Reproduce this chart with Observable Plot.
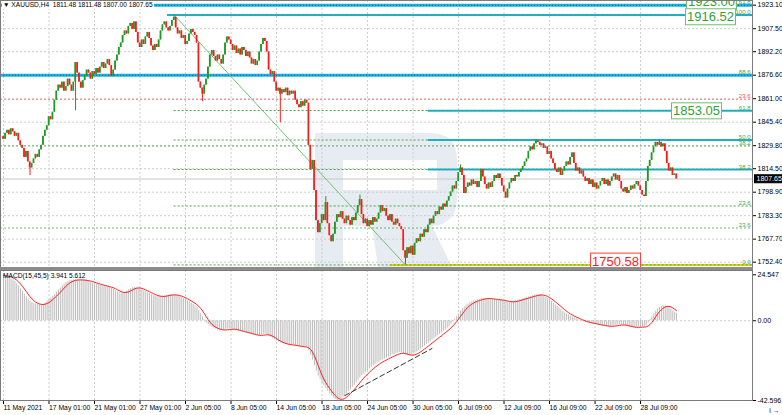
<!DOCTYPE html>
<html><head><meta charset="utf-8">
<script src="https://cdn.jsdelivr.net/npm/d3@7"></script>
<script src="https://cdn.jsdelivr.net/npm/@observablehq/plot@0.6"></script>
<style>
html,body{margin:0;padding:0;background:#fff;}
#wrap{position:relative;width:782px;height:415px;overflow:hidden;font-family:"Liberation Sans","DejaVu Sans",sans-serif;background:#fff;}
#wm{position:absolute;left:0;top:0;}
#top{position:absolute;left:0;top:0;}
#sep{position:absolute;left:0;top:267px;width:753px;height:3px;background:#8c8c8c;}
#bot{position:absolute;left:0;top:270px;}
.hdr{position:absolute;left:2px;font-size:6.6px;line-height:8px;color:#000;white-space:pre;background:#fff;padding:0 1px;}
</style></head><body>
<div id="wrap">
<svg id="wm" width="782" height="415"><path fill="#e7ecf3" fill-rule="evenodd" d="M315,133 H430 Q457,133 457,160 V198 Q457,224 432,226 L452,267 H378 L372,226 H343 V267 H315 Z M343,160 V190 H437 V160 Z"/></svg>
<div id="top"></div>
<div id="sep"></div>
<div id="bot"></div>
<div class="hdr" id="h1" style="top:1px"></div>
<div class="hdr" id="h2" style="top:272px;background:none"></div>
</div>
<script>
// ---------- DATA ----------
const symbolName = "XAUUSD,H4";
const headerOHLC = ["1811.48", "1811.48", "1807.00", "1807.65"];
const macdName = "MACD(15,45,5)";
const macdHeader = ["3.941", "5.612"];

const firstOpen = 1836;
const closes = [
1834,1838,1840,1837,1841,1839,1836,1838,1833,1830,1828,1822,1826,1819,1815,
1818,1821,1824,1822,1827,1830,1836,1840,1843,1849,1847,1852,1860,1866,
1870,1868,1872,1866,1869,1874,1870,1866,1872,
1885,1878,1872,1868,1873,
1876,1880,1878,1874,1879,1877,1881,1878,
1882,1885,1881,1884,1887,1883,1876,1880,
1886,1890,1895,
1898,1903,1906,1904,1909,1911,1907,1912,1905,1898,1895,1900,1897,1902,1905,1901,1896,1893,1897,1895,
1900,1906,1910,1912,1908,1906,1909,1913,1915,1908,1904,1906,1901,1903,1897,1899,
1904,1907,1905,1903,1898,1872,1868,1864,1870,
1874,1882,1890,1893,1889,1886,1890,1887,1884,
1890,1898,1902,1900,1897,
1893,1896,1891,1894,1890,1895,1893,1889,1892,1888,
1884,1887,1883,1886,1892,1897,1901,1899,
1892,1880,1877,1879,1872,1866,1868,
1864,1867,1865,1868,1863,1866,1864,1866,
1860,1857,1855,1859,1856,1860,1858,
1830,1814,1820,1800,1780,1772,1778,1784,1780,1792,
1778,1770,1766,1771,1779,1784,1782,1786,1781,
1778,1783,1780,1777,1782,1780,1785,1790,1794,
1784,1778,1781,1776,1780,1777,1782,1779,1781,
1785,1790,1786,1788,1783,1780,1784,1779,1777,1781,1778,1776,
1774,1760,1755,1762,1758,1763,1757,1765,1768,
1766,1771,1769,1774,1772,1777,1781,1778,1783,
1786,1784,1789,1787,1791,1789,1793,
1796,1799,1803,1801,1806,1812,1815,1810,
1798,1802,1805,1803,1807,1804,1806,1802,
1806,1814,1809,1804,1801,1805,1802,1806,
1810,1808,1811,1808,1803,1799,1795,1801,
1805,1808,1806,1810,1809,1812,1814,
1816,1819,1821,1826,1829,1827,1831,1833,1832,1830,
1831,1828,1829,1824,1826,1821,1818,1814,1812,1815,1810,1813,
1816,1819,1817,1822,1825,1818,1813,1815,
1811,1813,1809,1806,1808,1804,1807,1802,1805,1801,1803,1806,
1808,1804,1807,1803,1806,1809,1811,1807,1810,1806,
1801,1799,1802,1798,1800,1803,1801,1804,1806,1803,1800,1797,1796,
1806,1816,1820,1825,1829,1832,1830,1832,1829,1831,1826,1818,1813,1815,1810,1811,1807.65
];
const wickIdx  = [14, 38, 90, 105, 146, 170, 188, 212, 241, 281, 346];
const wickHigh = [null, null, 1916.52, null, null, 1796, 1797, null, 1817, 1833.8, 1833.5];
const wickLow  = [1810, 1853, null, 1859, 1845, null, null, 1750.58, null, null, null];

const macd = [
24.2,23.9,23.5,23.0,22.5,22.0,
21.0,19.8,18.5,17.0,
15.6,14.2,12.8,11.5,10.4,
9.7,9.2,8.8,8.6,8.5,8.6,8.9,
9.6,10.4,11.3,12.2,13.1,14.0,
15.2,16.4,17.5,18.6,19.6,20.4,21.0,
21.4,21.6,21.8,21.9,21.9,21.8,21.7,21.6,21.5,21.3,
21.0,20.6,20.2,19.9,19.6,19.3,19.0,18.7,18.4,
18.2,18.0,17.7,17.3,16.7,16.0,15.4,
15.0,14.8,14.9,15.3,15.9,
16.5,17.1,17.6,17.8,17.7,
17.4,17.0,16.5,16.0,15.5,15.0,14.5,14.0,13.6,13.2,12.9,
12.8,12.9,13.1,13.3,13.6,13.9,14.0,13.9,13.7,13.5,13.2,12.9,
12.4,11.8,11.2,10.6,10.0,9.4,8.8,8.0,7.0,5.5,3.8,
2.0,0.3,-1.2,-2.2,
-3.0,-3.6,-4.1,-4.5,-4.8,-5.0,-5.1,
-5.0,-4.8,-4.5,-4.4,-4.4,-4.6,-4.9,-5.2,-5.5,-5.8,
-6.0,-6.2,-6.5,-6.8,-7.1,-7.4,-7.7,-7.9,-8.0,-7.9,-7.6,-7.3,-7.2,
-7.5,-8.2,-8.9,-9.5,-10.2,-10.9,-11.4,-11.9,-12.2,-12.5,-12.7,-12.9,-13.0,-13.1,-13.2,
-13.4,-13.6,-13.9,-14.0,-14.1,-14.1,-14.2,
-16,-18.5,-21,-24,-27,-29.5,-31.5,-33.3,-34.8,-36.2,-37.6,-39.0,-40.2,-41.2,-42.0,
-42.596,-42.3,-41.7,-40.9,-40.0,-39.0,-37.9,-36.8,-35.6,-34.4,-33.1,-31.8,-30.5,
-29.3,-28.5,-27.6,-26.6,-25.6,-24.8,-24.0,-23.3,-22.6,-22.0,-21.4,-20.9,-20.4,-19.9,-19.4,-18.9,-18.4,-18.0,-17.6,-17.3,-17.0,
-17.2,-17.8,-18.4,-18.6,-18.6,-18.3,-17.9,-17.4,-16.7,
-16.0,-15.2,-14.4,-13.6,-12.8,-12.0,-11.2,-10.4,-9.6,-8.8,-8.0,-7.2,-6.4,-5.6,-4.8,-4.0,
-3.0,-1.8,-0.5,0.8,2.2,3.7,5.2,6.4,7.4,8.3,9.0,
9.6,10.1,10.5,10.8,11.1,11.4,11.7,11.9,12.0,11.9,11.8,11.6,11.4,11.3,11.2,11.1,11.0,
10.8,10.5,10.2,10.0,10.0,10.1,10.3,10.6,10.9,11.2,11.5,11.8,12.1,12.4,12.7,13.0,13.3,13.6,13.8,13.9,13.9,
13.6,13.1,12.5,11.8,11.0,10.2,9.4,8.5,7.6,6.8,5.9,5.0,4.2,3.5,3.0,2.5,2.1,
1.6,1.1,0.6,0.2,-0.2,-0.5,-0.8,-1.1,-1.3,-1.5,-1.7,-1.9,-2.1,-2.3,-2.5,
-2.7,-2.9,-3.0,-3.1,-3.0,-2.8,-2.6,-2.4,-2.2,-2.1,-2.2,-2.4,-2.7,-3.0,-3.3,-3.5,-3.6,-3.6,-3.5,-3.4,-3.3,-3.3,-3.4,
-2.8,-1.2,0.6,2.3,3.8,5.1,6.2,7.0,7.6,8.0,8.0,7.7,7.0,6.2,5.3,4.5,3.941
];

const dateIdx = [0,24,48,72,96,120,144,168,192,216,240,264,288,312,336];
const dateLabels = ["11 May 2021","17 May 01:00","21 May 01:00","27 May 01:00","2 Jun 05:00","8 Jun 05:00","14 Jun 05:00","18 Jun 05:00","24 Jun 05:00","30 Jun 05:00","6 Jul 09:00","12 Jul 09:00","16 Jul 09:00","22 Jul 09:00","28 Jul 09:00"];
const priceTicks = [1923.10,1907.50,1892.20,1876.60,1861.00,1845.40,1829.80,1814.50,1798.90,1783.30,1767.70,1752.40];
const macdTicks = [24.547, 0, -42.596];

// levels
const highIdx = 90, highPrice = 1916.52, lowIdx = 212, lowPrice = 1750.58;
const fibPrices = [1916.52, 1853.13, 1833.55, 1813.97, 1789.74, 1750.58];
const fibStart = 90;
const cyanThickFull = [1923.00, 1876.60];
const cyanHighStart = 86.5;
const cyanRight = [1853.05, 1833.55, 1813.97];
const cyanRightStart = 224;
const yellowStart = 204;
const redDottedFull = [1860.5];
const greenDottedFull = [1829.6, 1775.1];
const levelLabelText  = ["61.8","100.0","88.6","61.8","50.0","38.2","38.2","23.6","23.6","0.0"];
const levelLabelPrice = [1923.0, 1916.52, 1876.6, 1853.13, 1833.55, 1829.6, 1813.97, 1789.74, 1775.1, 1750.58];
const redLabelText = ["23.6"], redLabelPrice = [1860.5];
const boxGreenText = ["1923.00","1916.52","1853.05"];
const boxGreenPrice = [1923.00, 1916.52, 1853.05];
const boxGreenIdx = [373.4, 372.9, 365.5];
const boxRedText = ["1750.58"], boxRedPrice = [1750.58], boxRedIdx = [322.8];
const lastPrice = 1807.65;
const macdTrend = [{i:180, v:-40.0}, {i:226, v:-14.8}];

// ---------- BUILD ----------
const bars = closes.map((c, i) => {
  const o = i === 0 ? firstOpen : closes[i - 1];
  let hi = Math.max(o, c), lo = Math.min(o, c);
  const k = wickIdx.indexOf(i);
  if (k >= 0) {
    if (wickHigh[k] != null) hi = Math.max(hi, wickHigh[k]);
    if (wickLow[k] != null) lo = Math.min(lo, wickLow[k]);
  }
  return {i, o, c, hi, lo, col: c >= o ? "#1f9a24" : "#ff1a1a"};
});
const macdRows = macd.map((v, i) => ({i, v, s: d3.mean(macd.slice(Math.max(0, i - 4), i + 1))}));

const xDomain = [-1.582, 395.04];
const xMax = xDomain[1];
const cyan = "#14b2ea", green = "#46a646", grid = "#cdcdcd";
const baseStyle = {fontFamily: "Liberation Sans, DejaVu Sans, sans-serif", fontSize: "7px", background: "transparent", color: "#000"};

const topPlot = Plot.plot({
  width: 782, height: 267,
  marginLeft: 0, marginRight: 30, marginTop: 0, marginBottom: 0,
  x: {domain: xDomain, axis: null},
  y: {domain: [1748.88, 1926.22], axis: null},
  style: baseStyle,
  marks: [
    Plot.ruleX(dateIdx, {stroke: grid, strokeDasharray: "2,2"}),
    Plot.ruleY(priceTicks, {stroke: grid, strokeDasharray: "2,2"}),
    Plot.ruleY(redDottedFull, {stroke: "#ff8a8a", strokeDasharray: "2,2"}),
    Plot.ruleY(greenDottedFull, {stroke: green, strokeDasharray: "2,2", strokeOpacity: 0.8}),
    Plot.ruleY(cyanThickFull, {stroke: cyan, strokeWidth: 3}),
    Plot.ruleY(cyanThickFull, {stroke: "#1c6e5a", strokeWidth: 1, strokeDasharray: "1,2"}),
    Plot.ruleY([highPrice], {x1: cyanHighStart, x2: xMax, stroke: cyan, strokeWidth: 2}),
    Plot.ruleY(cyanRight, {x1: cyanRightStart, x2: xMax, stroke: cyan, strokeWidth: 2}),
    Plot.ruleY([lowPrice], {x1: yellowStart, x2: xMax, stroke: "#e2d400", strokeWidth: 2}),
    Plot.ruleY(fibPrices, {x1: fibStart, x2: xMax, stroke: green, strokeDasharray: "2,2"}),
    Plot.ruleY([lastPrice], {stroke: "#c8c8c8"}),
    Plot.line([{i: highIdx, p: highPrice}, {i: lowIdx, p: lowPrice}], {x: "i", y: "p", stroke: "#72c072", strokeWidth: 1}),
    Plot.ruleX(bars, {x: "i", y1: "lo", y2: "hi", stroke: "col", strokeWidth: 1}),
    Plot.rect(bars, {x1: d => d.i - 0.4, x2: d => d.i + 0.4, y1: "o", y2: "c", fill: "col"}),
    Plot.text(levelLabelText, {y: (d, k) => levelLabelPrice[k], text: d => d, frameAnchor: "right", textAnchor: "end", lineAnchor: "bottom", dx: -2, dy: -1, fill: green, fontSize: 6}),
    Plot.text(redLabelText, {y: (d, k) => redLabelPrice[k], text: d => d, frameAnchor: "right", textAnchor: "end", lineAnchor: "bottom", dx: -2, dy: -1, fill: "#ff4a4a", fontSize: 6}),
    Plot.text(boxGreenText, {x: (d, k) => boxGreenIdx[k], y: (d, k) => boxGreenPrice[k], text: d => d, fill: "#36a036", fontSize: 13, ariaDescription: "boxgreen"}),
    Plot.text(boxRedText, {x: (d, k) => boxRedIdx[k], y: (d, k) => boxRedPrice[k], text: d => d, fill: "#ff1a1a", fontSize: 13, dy: -3.5, ariaDescription: "boxred"}),
    Plot.axisY({anchor: "right", ticks: priceTicks, tickFormat: d => d.toFixed(2), tickSize: 3, tickPadding: 2, fontSize: 7}),
    Plot.frame({stroke: "#7a7a7a"}),
    Plot.text([lastPrice], {y: d => d, text: d => d.toFixed(2), frameAnchor: "right", textAnchor: "start", dx: 4, fill: "#fff", fontSize: 7, ariaDescription: "pricetag"})
  ]
});
document.getElementById("top").appendChild(topPlot);

// shift the two stacked top labels apart like the reference (top one partly cut off)
const greenTexts = topPlot.querySelectorAll('g[aria-description="boxgreen"] text');
const boxShift = [-3.5, 2, 0.5];
greenTexts.forEach((t, k) => {
  const tr = t.getAttribute("transform") || "";
  t.setAttribute("transform", tr + ` translate(0,${boxShift[k] || 0})`);
});

const botPlot = Plot.plot({
  width: 782, height: 145,
  marginLeft: 0, marginRight: 30, marginTop: 0, marginBottom: 15,
  x: {domain: xDomain, axis: null},
  y: {domain: [-42.596, 26.84], axis: null},
  style: baseStyle,
  marks: [
    Plot.ruleX(dateIdx, {stroke: grid, strokeDasharray: "2,2"}),
    Plot.ruleY([0], {stroke: grid, strokeDasharray: "2,2"}),
    Plot.ruleX(macdRows, {x: "i", y1: 0, y2: "v", stroke: "#bcbcbc", strokeWidth: 1}),
    Plot.line(macdRows, {x: "i", y: "s", stroke: "#ff2020", strokeWidth: 1}),
    Plot.line(macdTrend, {x: "i", y: "v", stroke: "#333", strokeWidth: 1, strokeDasharray: "5,3"}),
    Plot.axisY({anchor: "right", ticks: macdTicks, tickFormat: d => d === 0 ? "0.00" : String(d), tickSize: 3, tickPadding: 2, fontSize: 7}),
    Plot.axisX({anchor: "bottom", ticks: dateIdx, tickFormat: d => dateLabels[dateIdx.indexOf(d)], tickSize: 4, tickPadding: 1, textAnchor: "start", fontSize: 6.8}),
    Plot.frame({stroke: "#7a7a7a"})
  ]
});
document.getElementById("bot").appendChild(botPlot);

function addBoxes(svg, desc, fill, stroke, px, py) {
  svg.querySelectorAll(`g[aria-description="${desc}"] text`).forEach(t => {
    const b = t.getBBox();
    const r = document.createElementNS("http://www.w3.org/2000/svg", "rect");
    r.setAttribute("x", b.x - px); r.setAttribute("y", b.y - py);
    r.setAttribute("width", b.width + 2 * px); r.setAttribute("height", b.height + 2 * py);
    r.setAttribute("fill", fill); r.setAttribute("stroke", stroke); r.setAttribute("stroke-width", 1);
    const tr = t.getAttribute("transform"); if (tr) r.setAttribute("transform", tr);
    t.parentNode.insertBefore(r, t);
  });
}
addBoxes(topPlot, "boxgreen", "#fff", "#6cbf6c", 1.5, 0.5);
addBoxes(topPlot, "boxred", "#fff", "#ff4040", 1.5, 0.5);
addBoxes(topPlot, "pricetag", "#000", "#000", 2, 0.5);

document.getElementById("h1").textContent = "\u25BC " + symbolName + "  " + headerOHLC.join(" ");
document.getElementById("h2").textContent = macdName + " " + macdHeader.join(" ");
</script>
</body></html>
